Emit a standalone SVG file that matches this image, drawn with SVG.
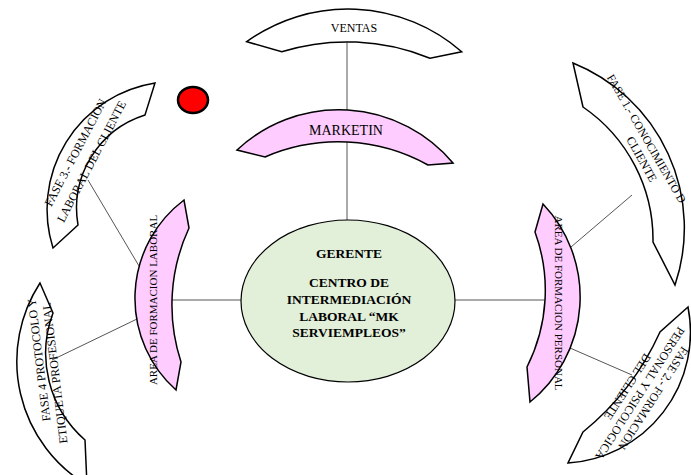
<svg xmlns="http://www.w3.org/2000/svg" width="691" height="475" viewBox="0 0 691 475">
<style>
.shape{stroke:#000;stroke-width:1.5;stroke-linejoin:miter}
.white{fill:#fff}
.pink{fill:#FFCCFF}
.t{font-family:"Liberation Serif","Times New Roman",serif;fill:#000}
.f12{font-size:12px}
.f11{font-size:11px}
.c{text-anchor:middle;dominant-baseline:central}
.b{font-weight:bold;font-size:13.5px;text-anchor:middle}
.conn line{stroke:#555;stroke-width:1}
</style>
<rect width="691" height="475" fill="#fff"/>
<g id="connectors" class="conn">
<line x1="347" y1="42.5" x2="347" y2="110"/>
<line x1="347" y1="142" x2="347" y2="220"/>
<line x1="241" y1="300" x2="172" y2="300"/>
<line x1="455" y1="300" x2="545" y2="300"/>
<line x1="88" y1="180" x2="139" y2="266"/>
<line x1="137" y1="319" x2="52" y2="360"/>
<line x1="571" y1="247" x2="632" y2="195"/>
<line x1="570" y1="348" x2="632" y2="375"/>
</g>
<g id="ventas">
<path class="shape white" d="M246.7,41.7 A173,173 0 0 1 461.7,51.7 L430,58.3 A220,220 0 0 0 281.7,51.7 Z"/>
<text class="t f12 c" x="354" y="28.3">VENTAS</text>
</g>
<g id="marketin">
<path class="shape pink" d="M237,150 A149,149 0 0 1 453,163 L428,165 A185,185 0 0 0 265,157 Z"/>
<text class="t c" style="font-size:14px" x="346" y="130">MARKETIN</text>
</g>
<g id="alerta">
<ellipse cx="193" cy="100" rx="15" ry="13" fill="#FF0000" stroke="#000" stroke-width="2.5"/>
</g>
<g id="gerente">
<ellipse cx="348" cy="301" rx="107" ry="81" fill="#E2EFD9" stroke="#000" stroke-width="1.2"/>
<text class="t b" x="349" y="257.8">GERENTE</text>
<text class="t b" x="349" y="287.2">CENTRO DE</text>
<text class="t b" x="349" y="303.8">INTERMEDIACIÓN</text>
<text class="t b" x="349" y="320.5">LABORAL “MK</text>
<text class="t b" x="349" y="337.2">SERVIEMPLEOS”</text>
</g>
<g id="area-laboral">
<path class="shape pink" d="M184,200 A123,123 0 0 0 176,390 L181,362 A183,183 0 0 1 189,228 Z"/>
<text class="t f11 c" transform="translate(153,300) rotate(-90)">AREA DE FORMACION LABORAL</text>
</g>
<g id="area-personal">
<path class="shape pink" d="M543,204 L535,232 A170,170 0 0 1 527,367 L530,402 A135,135 0 0 0 543,204 Z"/>
<text class="t f11 c" transform="translate(559,303) rotate(90)">AREA DE FORMACION PERSONAL</text>
</g>
<g id="fase3">
<path class="shape white" d="M53,248 A128,128 0 0 1 155,83 L145,115 A98,98 0 0 0 78,225 Z"/>
<text class="t f12 c" transform="translate(75.5,152.5) rotate(-62.3)">FASE 3.- FORMACION</text>
<text class="t f12 c" transform="translate(91.5,161.5) rotate(-62.3)">LABORAL DEL CLIENTE</text>
</g>
<g id="fase4">
<path class="shape white" d="M40,283 A144,144 0 0 0 87,485 L85,440 A115,115 0 0 1 53,313 Z"/>
<text class="t f12 c" transform="translate(39,360) rotate(-97)">FASE 4 PROTOCOLO Y</text>
<text class="t f12 c" transform="translate(55,373) rotate(-97)">ETIQUETA PROFESIONAL</text>
</g>
<g id="fase1">
<path class="shape white" d="M573,63 L583,107 A161,161 0 0 1 653,242 L675,285 A178,178 0 0 0 573,63 Z"/>
<text class="t" style="font-size:11.6px;dominant-baseline:central" transform="translate(609.5,75.5) rotate(60)">FASE 1.- CONOCIMIENTO D</text>
<text class="t f12 c" transform="translate(641.7,159.2) rotate(61)">CLIENTE</text>
</g>
<g id="fase2">
<path class="shape white" d="M688,307 L660,332 A275,275 0 0 1 583,432 L568,463 A131,131 0 0 0 688,307 Z"/>
<text class="t f12 c" transform="translate(653.3,398.3) rotate(122.7)">FASE 2.- FORMACION</text>
<text class="t f12 c" transform="translate(640,393.3) rotate(122.7)">PERSONAL Y PSICOLOGICA</text>
<text class="t f12 c" transform="translate(627.5,386.7) rotate(122.7)">DEL CLIENTE</text>
</g>
</svg>
